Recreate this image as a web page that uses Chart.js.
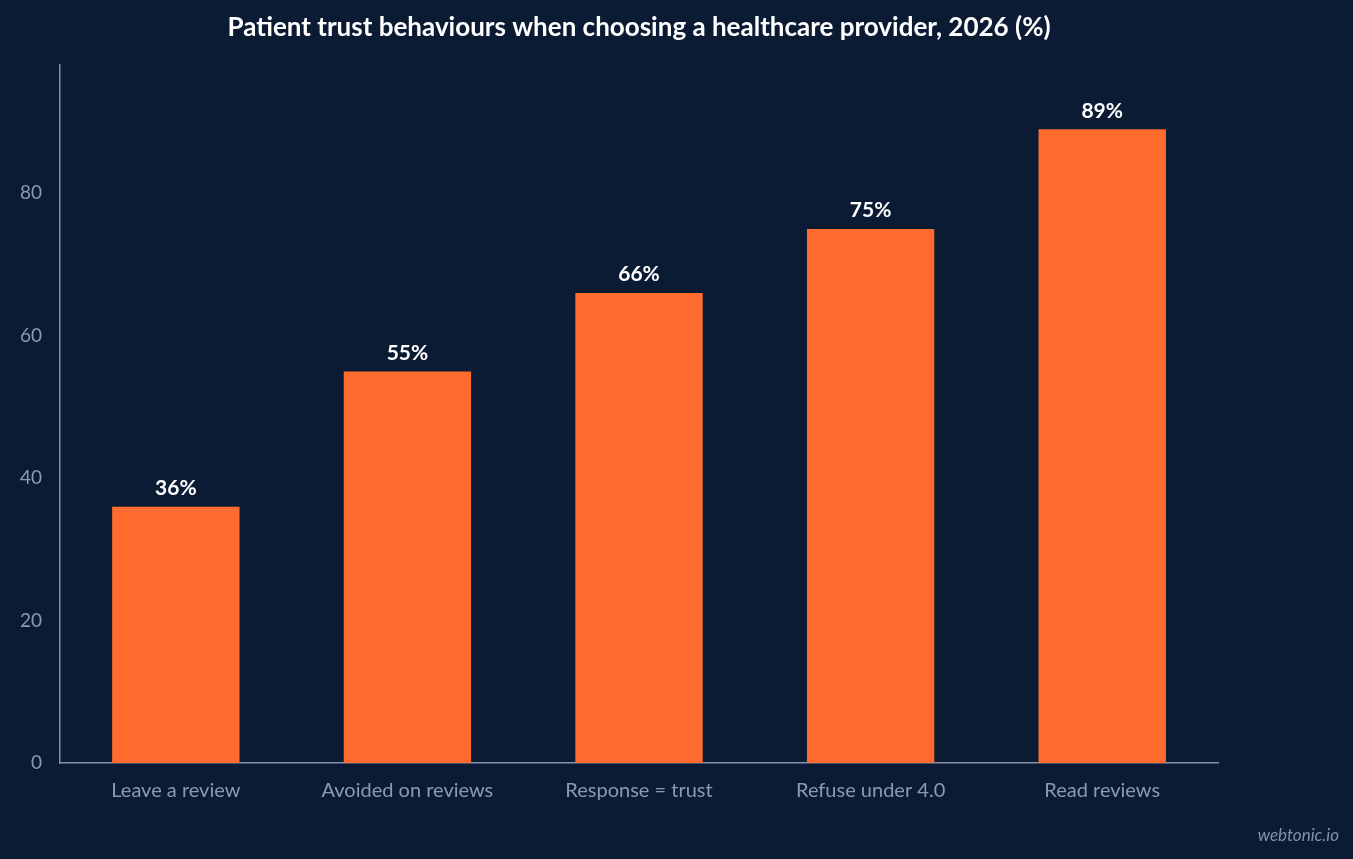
<!DOCTYPE html>
<html><head><meta charset="utf-8">
<script src="https://cdn.jsdelivr.net/npm/chart.js@4"></script>
<style>
html,body{margin:0;padding:0;background:#0b1b34;}
#wrap{position:relative;width:1353px;height:859px;}
#mark{position:absolute;right:14px;bottom:14px;font:italic 17px Lato,sans-serif;color:#8392ab;}
</style></head><body>
<div id="wrap"><canvas id="c" width="1353" height="859"></canvas><div id="mark">webtonic.io</div></div>
<script>
const categories = ["Leave a review","Avoided on reviews","Response = trust","Refuse under 4.0","Read reviews"];
const values = [36,55,66,75,89];
const yTicks = [0,20,40,60,80];

const labelPlugin = {
  id:'lbl',
  afterDatasetsDraw(chart){
    const ctx = chart.ctx;
    const meta = chart.getDatasetMeta(0);
    ctx.save();
    ctx.fillStyle = '#ffffff';
    ctx.font = 'bold 21px Lato';
    ctx.textAlign = 'center';
    ctx.textBaseline = 'bottom';
    meta.data.forEach((b,i)=>{ ctx.fillText(values[i]+'%', b.x, b.y-8); });
    ctx.restore();
  }
};

new Chart(document.getElementById('c'),{
  type:'bar',
  data:{labels:categories,datasets:[{data:values,backgroundColor:'#ff6b2f',barPercentage:0.55,categoryPercentage:1}]},
  options:{
    responsive:false,animation:false,
    layout:{padding:{left:10,right:135,top:10,bottom:48}},
    plugins:{
      legend:{display:false},tooltip:{enabled:false},
      title:{display:true,fullSize:false,text:'Patient trust behaviours when choosing a healthcare provider, 2026 (%)',
        color:'#ffffff',font:{family:'Lato',size:26,weight:'bold'},padding:{top:2,bottom:22}}
    },
    scales:{
      x:{grid:{display:false},border:{color:'#8392ab',width:1.5},
        ticks:{color:'#8a9ab5',font:{family:'Lato',size:20},padding:8}},
      y:{min:0,max:98,grid:{display:false},border:{color:'#8392ab',width:1.5},
        afterBuildTicks(ax){ax.ticks = yTicks.map(v=>({value:v}));},
        ticks:{color:'#8a9ab5',font:{family:'Lato',size:19},padding:10}}
    }
  },
  plugins:[labelPlugin]
});
</script></body></html>
